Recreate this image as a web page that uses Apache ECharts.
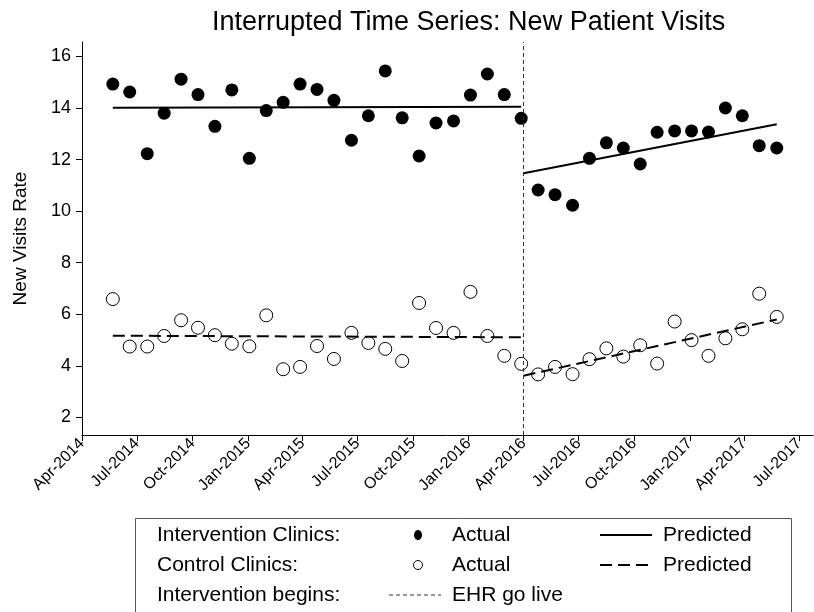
<!DOCTYPE html>
<html>
<head>
<meta charset="utf-8">
<script src="https://cdn.jsdelivr.net/npm/echarts@6/dist/echarts.min.js"></script>
<style>
  html, body { margin: 0; padding: 0; background: #fff; }
  #main { width: 814px; height: 612px; }
</style>
</head>
<body>
<div id="main"></div>
<script>
// 4-week periods
var periods = [
  '2014-05-22', '2014-06-19', '2014-07-18', '2014-08-15', '2014-09-12', '2014-10-10',
  '2014-11-07', '2014-12-05', '2015-01-03', '2015-01-31', '2015-02-28', '2015-03-28',
  '2015-04-25', '2015-05-23', '2015-06-21', '2015-07-19', '2015-08-16', '2015-09-13',
  '2015-10-11', '2015-11-08', '2015-12-07', '2016-01-04', '2016-02-01', '2016-02-29',
  '2016-03-28',
  '2016-04-25', '2016-05-23', '2016-06-21', '2016-07-19', '2016-08-16', '2016-09-13',
  '2016-10-11', '2016-11-08', '2016-12-07', '2017-01-04', '2017-02-01', '2017-03-01',
  '2017-03-29', '2017-04-26', '2017-05-25'
];
var interventionActual = [
  14.93, 14.62, 12.23, 13.80, 15.12, 14.52, 13.29, 14.70, 12.05, 13.90, 14.22, 14.93,
  14.72, 14.30, 12.75, 13.70, 15.44, 13.62, 12.14, 13.42, 13.50, 14.50, 15.32, 14.52,
  13.60,
  10.82, 10.64, 10.23, 12.05, 12.65, 12.45, 11.83, 13.06, 13.11, 13.11, 13.07, 14.00,
  13.70, 12.54, 12.45
];
var controlActual = [
  6.59, 4.75, 4.75, 5.16, 5.77, 5.48, 5.19, 4.86, 4.76, 5.96, 3.87, 3.96,
  4.77, 4.27, 5.28, 4.89, 4.66, 4.19, 6.44, 5.47, 5.28, 6.87, 5.16, 4.39,
  4.08,
  3.67, 3.96, 3.68, 4.26, 4.68, 4.36, 4.80, 4.09, 5.72, 5.00, 4.39, 5.07,
  5.42, 6.80, 5.90
];
// fitted segments: [start, end] of each straight line
var interventionPredPre = [14.01, 14.05];
var interventionPredPost = [11.47, 13.37];
var controlPredPre = [5.17, 5.11];
var controlPredPost = [3.62, 5.80];
var goLive = '2016-04-01';

var tickDates = [
  '2014-04-01', '2014-07-01', '2014-10-01', '2015-01-01', '2015-04-01', '2015-07-01', '2015-10-01',
  '2016-01-01', '2016-04-01', '2016-07-01', '2016-10-01', '2017-01-01', '2017-04-01', '2017-07-01'
];
var tickLabels = [
  'Apr-2014', 'Jul-2014', 'Oct-2014', 'Jan-2015', 'Apr-2015', 'Jul-2015', 'Oct-2015',
  'Jan-2016', 'Apr-2016', 'Jul-2016', 'Oct-2016', 'Jan-2017', 'Apr-2017', 'Jul-2017'
];
var yTicks = [2, 4, 6, 8, 10, 12, 14, 16];

var nPre = 25;
var toTime = function (s) { return +echarts.time.parse(s); };
var tickTimes = tickDates.map(toTime);

function pairs(vals, from, to) {
  var out = [];
  for (var i = from; i < to; i++) out.push([toTime(periods[i]), vals[i]]);
  return out;
}
function segment(vals, from, to) {
  return [[toTime(from), vals[0]], [toTime(to), vals[1]]];
}

var font = 'Liberation Sans, Arial, sans-serif';
var lgFont = '21px ' + font;
var mycharts = echarts.init(document.getElementById('main'));

var option = {
  animation: false,
  backgroundColor: '#fff',
  title: {
    text: 'Interrupted Time Series: New Patient Visits',
    left: 207,
    top: 4,
    textStyle: { fontFamily: font, fontSize: 27, fontWeight: 'normal', color: '#000' }
  },
  grid: {
    left: 82, right: 1, top: 42, bottom: 177,
    containLabel: false, outerBoundsMode: 'none'
  },
  xAxis: {
    type: 'value',
    min: toTime('2014-04-01'),
    max: toTime('2017-07-24'),
    splitLine: { show: false },
    axisLine: { lineStyle: { color: '#000', width: 1 } },
    axisTick: { customValues: tickTimes, length: 6, lineStyle: { color: '#000' } },
    axisLabel: {
      customValues: tickTimes,
      rotate: 45,
      margin: 6,
      color: '#000',
      fontFamily: font,
      fontSize: 16,
      formatter: function (v) {
        var i = tickTimes.indexOf(v);
        return i >= 0 ? tickLabels[i] : '';
      }
    }
  },
  yAxis: {
    type: 'value',
    min: 1.32,
    max: 16.56,
    name: 'New Visits Rate',
    nameLocation: 'middle',
    nameGap: 52,
    nameRotate: 90,
    nameTextStyle: { fontFamily: font, fontSize: 19, color: '#000' },
    splitLine: { show: false },
    axisLine: { show: true, lineStyle: { color: '#000', width: 1 } },
    axisTick: { show: true, customValues: yTicks, length: 6, lineStyle: { color: '#000' } },
    axisLabel: { customValues: yTicks, margin: 11, color: '#000', fontFamily: font, fontSize: 18 }
  },
  series: [
    {
      name: 'Intervention actual',
      type: 'scatter',
      symbol: 'circle',
      symbolSize: 13,
      itemStyle: { color: '#000', opacity: 1 },
      data: pairs(interventionActual, 0, periods.length)
    },
    {
      name: 'Control actual',
      type: 'scatter',
      symbol: 'circle',
      symbolSize: 13,
      itemStyle: { color: '#fff', borderColor: '#000', borderWidth: 1, opacity: 1 },
      data: pairs(controlActual, 0, periods.length)
    },
    {
      type: 'line', symbol: 'none',
      lineStyle: { color: '#000', width: 2 },
      data: segment(interventionPredPre, periods[0], periods[nPre - 1])
    },
    {
      type: 'line', symbol: 'none',
      lineStyle: { color: '#000', width: 2 },
      data: segment(interventionPredPost, goLive, periods[periods.length - 1])
    },
    {
      type: 'line', symbol: 'none',
      lineStyle: { color: '#000', width: 2, type: [12, 6] },
      data: segment(controlPredPre, periods[0], periods[nPre - 1])
    },
    {
      type: 'line', symbol: 'none',
      lineStyle: { color: '#000', width: 2, type: [12, 6] },
      data: segment(controlPredPost, goLive, periods[periods.length - 1]),
      markLine: {
        silent: true,
        symbol: 'none',
        label: { show: false },
        lineStyle: { color: '#333', width: 1, type: [4, 3] },
        data: [{ xAxis: toTime(goLive) }]
      }
    }
  ],
  graphic: [
    {
      type: 'rect', left: 133, top: 516,
      shape: { width: 656, height: 120 },
      style: { fill: 'none', stroke: '#555', lineWidth: 1 }
    },
    { type: 'text', x: 157, y: 535, style: { text: 'Intervention Clinics:', font: lgFont, fill: '#000', verticalAlign: 'middle' } },
    { type: 'text', x: 157, y: 565, style: { text: 'Control Clinics:', font: lgFont, fill: '#000', verticalAlign: 'middle' } },
    { type: 'text', x: 157, y: 595, style: { text: 'Intervention begins:', font: lgFont, fill: '#000', verticalAlign: 'middle' } },
    { type: 'ellipse', shape: { cx: 418, cy: 535, rx: 4, ry: 5 }, style: { fill: '#000' } },
    { type: 'circle', shape: { cx: 418, cy: 565, r: 4.5 }, style: { fill: '#fff', stroke: '#000', lineWidth: 1 } },
    { type: 'text', x: 452, y: 535, style: { text: 'Actual', font: lgFont, fill: '#000', verticalAlign: 'middle' } },
    { type: 'text', x: 452, y: 565, style: { text: 'Actual', font: lgFont, fill: '#000', verticalAlign: 'middle' } },
    { type: 'line', shape: { x1: 600, y1: 535, x2: 652, y2: 535 }, style: { stroke: '#000', lineWidth: 2 } },
    { type: 'line', shape: { x1: 600, y1: 565, x2: 652, y2: 565 }, style: { stroke: '#000', lineWidth: 2, lineDash: [12, 6] } },
    { type: 'text', x: 663, y: 535, style: { text: 'Predicted', font: lgFont, fill: '#000', verticalAlign: 'middle' } },
    { type: 'text', x: 663, y: 565, style: { text: 'Predicted', font: lgFont, fill: '#000', verticalAlign: 'middle' } },
    { type: 'line', shape: { x1: 389, y1: 595, x2: 441, y2: 595 }, style: { stroke: '#333', lineWidth: 1, lineDash: [4, 3] } },
    { type: 'text', x: 452, y: 595, style: { text: 'EHR go live', font: lgFont, fill: '#000', verticalAlign: 'middle' } }
  ]
};
mycharts.setOption(option);
</script>
</body>
</html>
